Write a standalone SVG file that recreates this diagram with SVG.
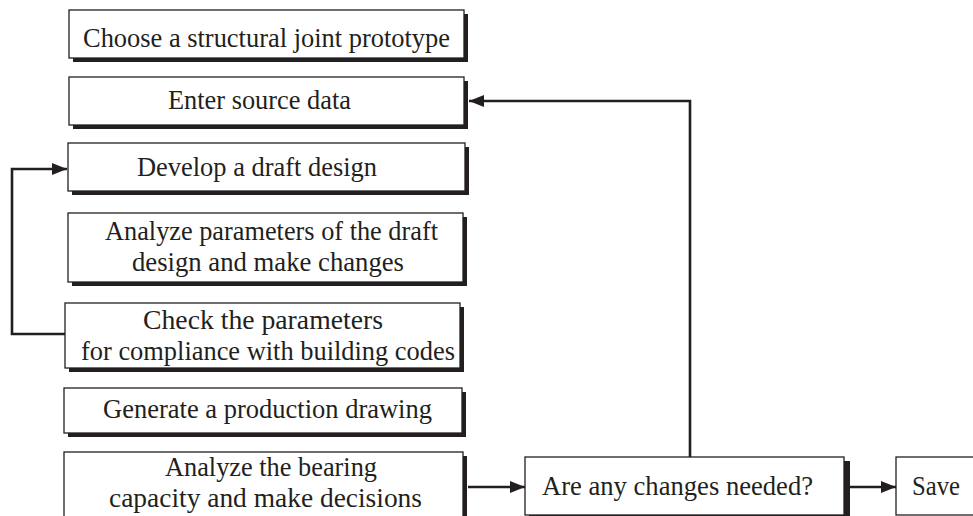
<svg xmlns="http://www.w3.org/2000/svg" width="973" height="516" viewBox="0 0 973 516">
<defs>
<style>
.sh{fill:#231f20}
.bx{fill:#fff;stroke:#231f20;stroke-width:1.3}
.t{font-family:'Liberation Serif','Times New Roman',serif;font-size:28px;fill:#231f20}
.c{fill:none;stroke:#231f20;stroke-width:2.6}
</style>
<marker id="ah" markerWidth="15" markerHeight="12" refX="15" refY="6" orient="auto" markerUnits="userSpaceOnUse" viewBox="0 0 15 12">
<path d="M0,0 L15,6 L0,12 Z" fill="#231f20"/>
</marker>
</defs>
<g id="connectors">
<path class="c" d="M468,487 H525" marker-end="url(#ah)"/>
<path class="c" d="M849,487 H896" marker-end="url(#ah)"/>
<path class="c" d="M690,457 V101 H469" marker-end="url(#ah)"/>
<path class="c" d="M65,334 H12 V169 H67" marker-end="url(#ah)"/>
</g>
<g id="n1"><rect class="sh" x="73" y="14" width="395" height="48"/><rect class="bx" x="69" y="10" width="395" height="48"/><text class="t" x="83" y="47" textLength="367" lengthAdjust="spacingAndGlyphs">Choose a structural joint prototype</text></g>
<g id="n2"><rect class="sh" x="73" y="81" width="395" height="48"/><rect class="bx" x="69" y="77" width="395" height="48"/><text class="t" x="168" y="109" textLength="183" lengthAdjust="spacingAndGlyphs">Enter source data</text></g>
<g id="n3"><rect class="sh" x="72" y="147" width="397" height="48"/><rect class="bx" x="68" y="143" width="397" height="48"/><text class="t" x="137" y="176" textLength="240" lengthAdjust="spacingAndGlyphs">Develop a draft design</text></g>
<g id="n4"><rect class="sh" x="72" y="217" width="395" height="69"/><rect class="bx" x="68" y="213" width="395" height="69"/><text class="t" x="105" y="240" textLength="333" lengthAdjust="spacingAndGlyphs">Analyze parameters of the draft</text><text class="t" x="132" y="271" textLength="272" lengthAdjust="spacingAndGlyphs">design and make changes</text></g>
<g id="n5"><rect class="sh" x="69" y="307" width="395" height="65"/><rect class="bx" x="65" y="303" width="395" height="65"/><text class="t" x="143" y="329" textLength="240" lengthAdjust="spacingAndGlyphs">Check the parameters</text><text class="t" x="81" y="360" textLength="374" lengthAdjust="spacingAndGlyphs">for compliance with building codes</text></g>
<g id="n6"><rect class="sh" x="68" y="392" width="398" height="45"/><rect class="bx" x="64" y="388" width="398" height="45"/><text class="t" x="103" y="418" textLength="329" lengthAdjust="spacingAndGlyphs">Generate a production drawing</text></g>
<g id="n7"><rect class="sh" x="68" y="456" width="399" height="70"/><rect class="bx" x="64" y="452" width="399" height="70"/><text class="t" x="165" y="476" textLength="212" lengthAdjust="spacingAndGlyphs">Analyze the bearing</text><text class="t" x="109" y="507" textLength="313" lengthAdjust="spacingAndGlyphs">capacity and make decisions</text></g>
<g id="n8"><rect class="sh" x="529" y="461" width="321" height="60"/><rect class="bx" x="525" y="457" width="319" height="58"/><text class="t" x="542" y="495" textLength="271" lengthAdjust="spacingAndGlyphs">Are any changes needed?</text></g>
<g id="n9"><rect class="bx" x="896" y="457" width="90" height="58"/><text class="t" x="912" y="495" textLength="48" lengthAdjust="spacingAndGlyphs">Save</text></g>
</svg>
